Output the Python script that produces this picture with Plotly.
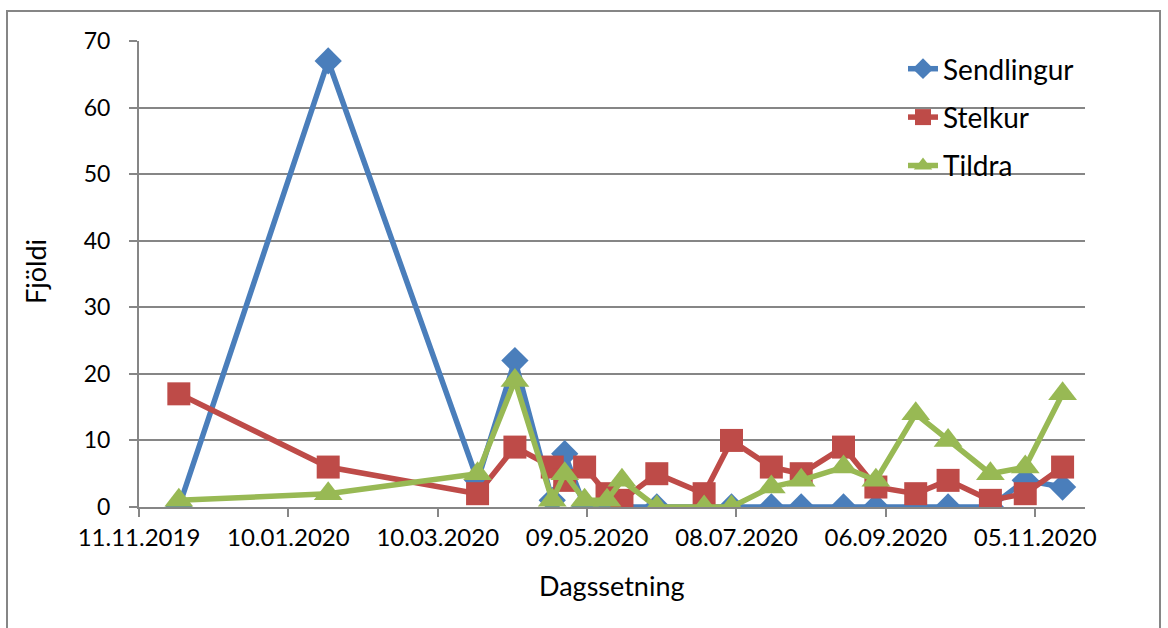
import plotly.graph_objects as go

# Survey dates and counts per species
dates = ['2019-11-27', '2020-01-26', '2020-03-26', '2020-04-10', '2020-04-25',
         '2020-04-30', '2020-05-08', '2020-05-17', '2020-05-23', '2020-06-06',
         '2020-06-25', '2020-07-06', '2020-07-22', '2020-08-03', '2020-08-20',
         '2020-09-02', '2020-09-18', '2020-10-01', '2020-10-18', '2020-11-01',
         '2020-11-16']
sendlingur = [0, 67, 4, 22, 1, 8, 0, 0, 0, 0, 0, 0, 0, 0, 0, 0, 0, 0, 0, 4, 3]
stelkur = [17, 6, 2, 9, 6, 4, 6, 2, 1, 5, 2, 10, 6, 5, 9, 3, 2, 4, 1, 2, 6]
tildra = [1, 2, 5, 19, 1, 5, 1, 1, 4, 0, 0, 0, 3, 4, 6, 4, 14, 10, 5, 6, 17]

tick_dates = ['2019-11-11', '2020-01-10', '2020-03-10', '2020-05-09',
              '2020-07-08', '2020-09-06', '2020-11-05']
tick_labels = ['11.11.2019', '10.01.2020', '10.03.2020', '09.05.2020',
               '08.07.2020', '06.09.2020', '05.11.2020']

FONT = 'Lato'
W, H = 1168, 628
L, R, T, B = 139, 83, 41, 121
pw, ph = W - L - R, H - T - B

series = [
    ('Sendlingur', sendlingur, '#4A7EBB', 'diamond', 21),
    ('Stelkur', stelkur, '#BE4B48', 'square', 23),
    ('Tildra', tildra, '#98B954', 'triangle-up', 25),
]

fig = go.Figure()
for name, vals, color, sym, size in series:
    fig.add_trace(go.Scatter(
        x=dates, y=vals, name=name, mode='lines+markers',
        legendgroup=name,
        line=dict(color=color, width=5.5),
        marker=dict(symbol=sym, size=size, color=color),
    ))

def px_x(p):
    return (p - L) / pw

def px_y(p):
    return (H - B - p) / ph

fig.update_layout(
    width=W, height=H,
    margin=dict(l=L, r=R, t=T, b=B),
    paper_bgcolor='white', plot_bgcolor='white',
    font=dict(family=FONT, color='black', size=23),
    showlegend=True,
    legend=dict(
        x=px_x(903), y=px_y(44), xanchor='left', yanchor='top',
        bgcolor='rgba(0,0,0,0)', font=dict(size=28, family=FONT),
        tracegroupgap=9,
    ),
    xaxis=dict(
        type='date', range=['2019-11-11', '2020-11-25'],
        tickvals=tick_dates, ticktext=tick_labels,
        showgrid=False, showline=True, linecolor='#868686', linewidth=2,
        ticks='outside', ticklen=8, tickwidth=2, tickcolor='#868686',
        tickfont=dict(size=24, family=FONT),
        zeroline=False,
    ),
    yaxis=dict(
        range=[0, 70], dtick=10,
        showgrid=True, gridcolor='#868686', gridwidth=2,
        showline=True, linecolor='#868686', linewidth=2,
        ticks='outside', ticklen=8, tickwidth=2, tickcolor='#868686',
        tickfont=dict(size=23, family=FONT),
        ticklabelstandoff=14,
        zeroline=False,
    ),
    annotations=[
        dict(text='Fjöldi', x=px_x(35), y=px_y(272), xref='paper', yref='paper',
             xanchor='center', yanchor='middle',
             textangle=-90, showarrow=False, font=dict(size=27, family=FONT)),
        dict(text='Dagssetning', x=px_x(612), y=px_y(585), xref='paper', yref='paper',
             xanchor='center', yanchor='middle',
             showarrow=False, font=dict(size=27, family=FONT)),
    ],
    shapes=[
        dict(type='rect', xref='paper', yref='paper',
             x0=px_x(7), x1=px_x(1160), y0=px_y(650), y1=px_y(11),
             line=dict(color='#868686', width=2), fillcolor='rgba(0,0,0,0)',
             layer='below'),
    ],
)

fig.write_html('out.html')
